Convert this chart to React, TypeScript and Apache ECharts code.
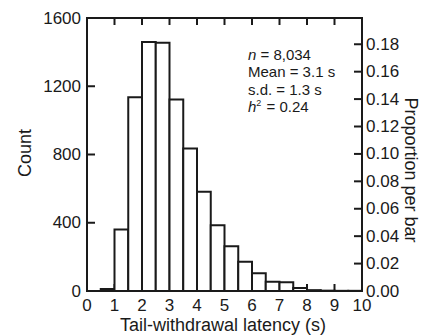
import React, { useEffect, useRef } from 'react';
import * as echarts from 'echarts';

const binEdges = [0, 0.5, 1, 1.5, 2, 2.5, 3, 3.5, 4, 4.5, 5, 5.5, 6, 6.5, 7, 7.5, 8, 8.5, 9, 9.5];
const binWidth = 0.5;
const counts = [0, 12, 360, 1135, 1460, 1455, 1122, 835, 581, 386, 263, 172, 104, 54, 51, 18, 5, 2, 1, 1];
const N = 8034;
const X_MAX = 10;
const COUNT_MAX = 1600;
const xTickValues = [1, 2, 3, 4, 5, 6, 7, 8, 9];
const countTickValues = [400, 800, 1200];
const propTickValues = [0.02, 0.04, 0.06, 0.08, 0.1, 0.12, 0.14, 0.16, 0.18];
const statLines = ['{i|n} = 8,034', 'Mean = 3.1 s', 's.d. = 1.3 s', '{i|h}{sup|2} = 0.24'];

const FONT = 'Liberation Sans, Arial, Helvetica, sans-serif';
const INK = '#1a1a1a';

export default function App() {
  const ref = useRef<HTMLDivElement>(null);
  useEffect(() => {
    if (!ref.current) return;
    const chart = echarts.init(ref.current, null, { renderer: 'svg' });
    const data = binEdges.map((e, i) => [e, counts[i]]);
    const axisLine = { show: true, onZero: false, lineStyle: { color: INK, width: 2 } };
    const label = { color: INK, fontFamily: FONT, fontSize: 17 };
    const tickStyle = { stroke: INK, lineWidth: 2 };
    const TL = 7;
    chart.setOption({
      animation: false,
      backgroundColor: '#fff',
      grid: { left: 87, right: 75, top: 18, bottom: 44, containLabel: false },
      xAxis: [
        {
          type: 'value', min: 0, max: X_MAX, interval: 1, position: 'bottom',
          axisLine, axisTick: { show: false }, splitLine: { show: false },
          axisLabel: { ...label, margin: 6 },
        },
        {
          type: 'value', min: 0, max: X_MAX, interval: 1, position: 'top',
          axisLine, axisTick: { show: false }, splitLine: { show: false },
          axisLabel: { show: false },
        },
      ],
      yAxis: [
        {
          type: 'value', min: 0, max: COUNT_MAX, interval: 400, position: 'left',
          axisLine, axisTick: { show: false }, splitLine: { show: false },
          axisLabel: { ...label, margin: 6, formatter: (v: number) => String(v) },
        },
        {
          type: 'value', min: 0, max: COUNT_MAX / N, interval: 0.02, position: 'right',
          axisLine, axisTick: { show: false }, splitLine: { show: false },
          axisLabel: {
            ...label, margin: 4,
            formatter: (v: number) => (v > 0.19 ? '' : v.toFixed(2)),
          },
        },
      ],
      series: [
        {
          type: 'custom', name: 'xticks', xAxisIndex: 0, yAxisIndex: 0, z: 2, silent: true,
          data: xTickValues.map((v) => [v, 0]),
          renderItem: (params: any, api: any) => {
            const v = api.value(0);
            const b = api.coord([v, 0]);
            const t = api.coord([v, COUNT_MAX]);
            return {
              type: 'group',
              children: [
                { type: 'line', shape: { x1: b[0], y1: b[1], x2: b[0], y2: b[1] - TL }, style: tickStyle },
                { type: 'line', shape: { x1: t[0], y1: t[1], x2: t[0], y2: t[1] + TL }, style: tickStyle },
              ],
            };
          },
        },
        {
          type: 'custom', name: 'countticks', xAxisIndex: 0, yAxisIndex: 0, z: 2, silent: true,
          data: countTickValues.map((v) => [0, v]),
          renderItem: (params: any, api: any) => {
            const p = api.coord([0, api.value(1)]);
            return { type: 'line', shape: { x1: p[0], y1: p[1], x2: p[0] + TL + 1, y2: p[1] }, style: tickStyle };
          },
        },
        {
          type: 'custom', name: 'propticks', xAxisIndex: 0, yAxisIndex: 1, z: 2, silent: true,
          data: propTickValues.map((v) => [X_MAX, v]),
          renderItem: (params: any, api: any) => {
            const p = api.coord([X_MAX, api.value(1)]);
            return { type: 'line', shape: { x1: p[0], y1: p[1], x2: p[0] - TL - 1, y2: p[1] }, style: tickStyle };
          },
        },
        {
          type: 'custom', name: 'bars', xAxisIndex: 0, yAxisIndex: 0, z: 3,
          data,
          renderItem: (params: any, api: any) => {
            const x0 = api.value(0);
            const c = api.value(1);
            const p0 = api.coord([x0, c]);
            const p1 = api.coord([x0 + binWidth, 0]);
            return {
              type: 'rect',
              shape: { x: p0[0], y: p0[1], width: p1[0] - p0[0], height: p1[1] - p0[1] },
              style: { fill: '#fff', stroke: INK, lineWidth: 2 },
            };
          },
        },
        {
          type: 'custom', name: 'frame', xAxisIndex: 0, yAxisIndex: 0, z: 4, silent: true,
          data: [[0, 0]],
          renderItem: (params: any, api: any) => {
            const a = api.coord([0, 0]);
            const b = api.coord([X_MAX, COUNT_MAX]);
            return {
              type: 'rect',
              shape: { x: a[0], y: b[1], width: b[0] - a[0], height: a[1] - b[1] },
              style: { fill: 'none', stroke: INK, lineWidth: 2 },
            };
          },
        },
      ],
      graphic: [
        {
          type: 'text', x: 25, y: 153, rotation: Math.PI / 2,
          style: { text: 'Count', fill: INK, font: `18px ${FONT}`, align: 'center', verticalAlign: 'middle' },
        },
        {
          type: 'text', x: 223, y: 325,
          style: { text: 'Tail-withdrawal latency (s)', fill: INK, font: `18px ${FONT}`, align: 'center', verticalAlign: 'middle' },
        },
        {
          type: 'text', x: 411, y: 170, rotation: -Math.PI / 2,
          style: { text: 'Proportion per bar', fill: INK, font: `18px ${FONT}`, align: 'center', verticalAlign: 'middle' },
        },
        ...statLines.map((t, i) => ({
          type: 'text', x: 248, y: 54 + i * 17.5,
          style: {
            text: t, fill: INK, fontFamily: FONT, fontSize: 15, verticalAlign: 'middle', align: 'left',
            rich: {
              i: { fontStyle: 'italic', fontFamily: FONT, fontSize: 15, fill: INK },
              sup: { fontSize: 9, fontFamily: FONT, fill: INK, verticalAlign: 'top', padding: [0, 1, 7, 0] },
            },
          },
        })),
      ],
    });
    return () => chart.dispose();
  }, []);
  return <div ref={ref} style={{ position: 'fixed', left: 0, top: 0, width: 437, height: 335 }} />;
}
